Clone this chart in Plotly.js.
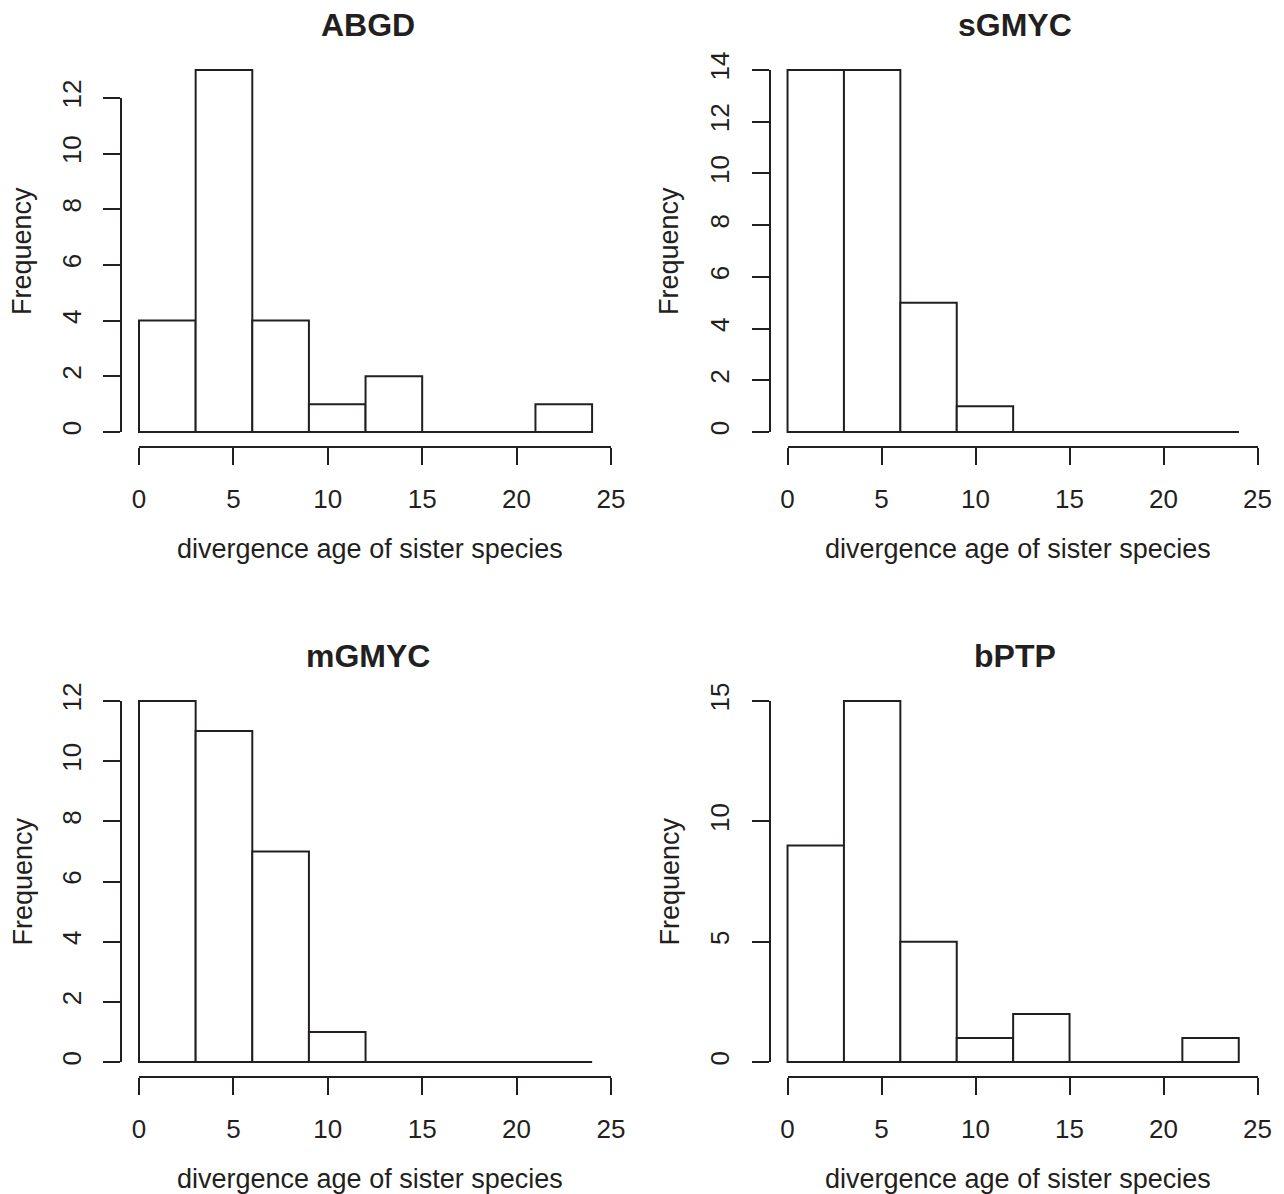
<!DOCTYPE html>
<html><head><meta charset="utf-8">
<script src="https://cdn.plot.ly/plotly-3.0.1.min.js"></script>
<style>html,body{margin:0;padding:0;background:#fff}#chart{width:1284px;height:1194px}</style>
</head><body><div id="chart"></div>
<script>
// ---- data ----
const panelTitles = ['ABGD', 'sGMYC', 'mGMYC', 'bPTP'];
const breaks = [0, 3, 6, 9, 12, 15, 18, 21, 24];
const countsABGD  = [4, 13, 4, 1, 2, 0, 0, 1];
const countsSGMYC = [14, 14, 5, 1, 0, 0, 0, 0];
const countsMGMYC = [12, 11, 7, 1, 0, 0, 0, 0];
const countsBPTP  = [9, 15, 5, 1, 2, 0, 0, 1];
const xTicks = [0, 5, 10, 15, 20, 25];
const yTicksABGD  = [0, 2, 4, 6, 8, 10, 12];
const yTicksSGMYC = [0, 2, 4, 6, 8, 10, 12, 14];
const yTicksMGMYC = [0, 2, 4, 6, 8, 10, 12];
const yTicksBPTP  = [0, 5, 10, 15];
const xLabel = 'divergence age of sister species';
const yLabel = 'Frequency';

// ---- styling / geometry ----
const W = 1284, H = 1194;
const INK = '#231f20';
const FONT = 'Liberation Sans, Arial, Helvetica, sans-serif';
const TICKFS = 26, LABFS = 27, TFS = 32;
const LW = 2;
const cols = [[120.9, 610.2], [769.5, 1256.8]];
const rows = [[55.5, 446.5], [686.5, 1076.5]];
const titleY = [25, 656];
const xlabY = [549, 1179];
const ylabX = [22, 669];

const panels = [
  {title: panelTitles[0], counts: countsABGD,  yTicks: yTicksABGD},
  {title: panelTitles[1], counts: countsSGMYC, yTicks: yTicksSGMYC},
  {title: panelTitles[2], counts: countsMGMYC, yTicks: yTicksMGMYC},
  {title: panelTitles[3], counts: countsBPTP,  yTicks: yTicksBPTP}
];

const data = [];
const layout = {
  width: W, height: H,
  margin: {l: 0, r: 0, t: 0, b: 0},
  paper_bgcolor: '#fff', plot_bgcolor: 'rgba(0,0,0,0)',
  showlegend: false,
  font: {family: FONT, color: INK, size: TICKFS},
  annotations: []
};

const mids = breaks.slice(0, -1).map((b, i) => (b + breaks[i + 1]) / 2);
const widths = breaks.slice(0, -1).map((b, i) => breaks[i + 1] - b);

panels.forEach((p, i) => {
  const c = i % 2, r = Math.floor(i / 2);
  const [left, right] = cols[c];
  const [top, bottom] = rows[r];
  const span = breaks[breaks.length - 1] - breaks[0];
  const xmin = breaks[0] - 0.04 * span, xmax = breaks[breaks.length - 1] + 0.04 * span;
  const M = Math.max(...p.counts);
  const ymin = -0.04 * M, ymax = 1.04 * M;
  const px = v => left + (v - xmin) / (xmax - xmin) * (right - left);
  const py = v => bottom - (v - ymin) / (ymax - ymin) * (bottom - top);

  const bx = 'x' + (i + 1), by = 'y' + (i + 1);
  const dx = 'x' + (i + 5), dy = 'y' + (i + 5);

  // bar axes (hidden)
  layout['xaxis' + (i + 1)] = {domain: [left / W, right / W], range: [xmin, xmax], visible: false, anchor: by, fixedrange: true};
  layout['yaxis' + (i + 1)] = {domain: [1 - bottom / H, 1 - top / H], range: [ymin, ymax], visible: false, anchor: bx, fixedrange: true};

  // display axes (R-style)
  const yTop = p.yTicks[p.yTicks.length - 1];
  layout['xaxis' + (i + 5)] = {
    domain: [px(xTicks[0]) / W, px(xTicks[xTicks.length - 1]) / W],
    range: [xTicks[0], xTicks[xTicks.length - 1]],
    anchor: 'free', position: 1 - bottom / H,
    showline: true, linecolor: INK, linewidth: LW,
    ticks: 'outside', ticklen: 17, tickwidth: LW, tickcolor: INK,
    tickmode: 'array', tickvals: xTicks, ticktext: xTicks.map(String),
    tickfont: {family: FONT, size: TICKFS, color: INK},
    ticklabelstandoff: 12,
    showgrid: false, zeroline: false, fixedrange: true
  };
  layout['yaxis' + (i + 5)] = {
    domain: [1 - py(p.yTicks[0]) / H, 1 - py(yTop) / H],
    range: [p.yTicks[0], yTop],
    anchor: 'free', position: left / W, side: 'left',
    showline: true, linecolor: INK, linewidth: LW,
    ticks: 'outside', ticklen: 17, tickwidth: LW, tickcolor: INK,
    tickmode: 'array', tickvals: p.yTicks, ticktext: p.yTicks.map(String),
    tickangle: -90,
    tickfont: {family: FONT, size: TICKFS, color: INK},
    ticklabelstandoff: 12,
    showgrid: false, zeroline: false, fixedrange: true
  };

  data.push({
    type: 'bar', x: mids, y: p.counts, width: widths,
    marker: {color: '#ffffff', line: {color: INK, width: LW}},
    xaxis: bx, yaxis: by, hoverinfo: 'skip'
  });
  data.push({
    type: 'scatter', mode: 'lines',
    x: [breaks[0], breaks[breaks.length - 1]], y: [0, 0],
    line: {color: INK, width: LW},
    xaxis: bx, yaxis: by, hoverinfo: 'skip'
  });
  data.push({type: 'scatter', mode: 'markers', x: [], y: [], xaxis: dx, yaxis: dy, hoverinfo: 'skip'});

  const cx = (left + right) / 2;
  layout.annotations.push({
    text: '<b>' + p.title + '</b>', xref: 'paper', yref: 'paper',
    x: (cx + 2) / W, y: 1 - titleY[r] / H, xanchor: 'center', yanchor: 'middle',
    showarrow: false, font: {family: FONT, size: TFS, color: INK}
  });
  layout.annotations.push({
    text: xLabel, xref: 'paper', yref: 'paper',
    x: (cx + 4.5) / W, y: 1 - xlabY[r] / H, xanchor: 'center', yanchor: 'middle',
    showarrow: false, font: {family: FONT, size: LABFS, color: INK}
  });
  layout.annotations.push({
    text: yLabel, xref: 'paper', yref: 'paper', textangle: -90,
    x: ylabX[c] / W, y: 1 - (top + bottom) / 2 / H, xanchor: 'center', yanchor: 'middle',
    showarrow: false, font: {family: FONT, size: LABFS, color: INK}
  });
});

Plotly.newPlot('chart', data, layout, {displayModeBar: false, staticPlot: true});
</script>
</body></html>
